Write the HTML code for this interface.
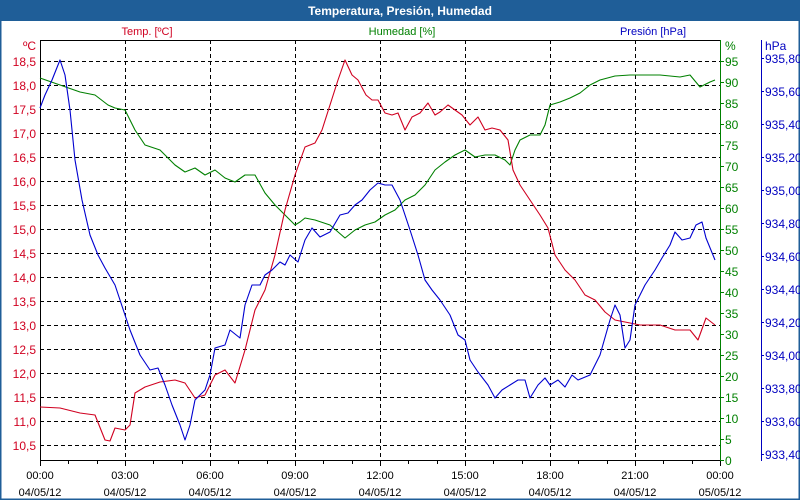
<!DOCTYPE html>
<html><head><meta charset="utf-8"><style>
body{margin:0;width:800px;height:500px;overflow:hidden;background:#fff}
svg{display:block;font-family:"Liberation Sans",sans-serif;font-size:11px}
</style></head><body>
<svg width="800" height="500" xmlns="http://www.w3.org/2000/svg">
<rect x="0" y="0" width="800" height="500" fill="#fff"/>
<rect x="0" y="0" width="800" height="21" fill="#1f5e98"/>
<rect x="0.5" y="0.5" width="799" height="499" fill="none" stroke="#1f5e98" stroke-width="2"/>
<text x="400" y="15" fill="#fff" font-weight="bold" font-size="12" text-anchor="middle">Temperatura, Presión, Humedad</text>
<text x="147" y="35" fill="#d00020" text-anchor="middle">Temp. [ºC]</text>
<text x="402" y="35" fill="#008000" text-anchor="middle">Humedad [%]</text>
<text x="653" y="35" fill="#0000c0" text-anchor="middle">Presión [hPa]</text>
<g stroke="#000" stroke-dasharray="4,3" stroke-width="1">
<path d="M40 61.5H720M40 85.5H720M40 109.5H720M40 133.5H720M40 157.5H720M40 181.5H720M40 205.5H720M40 229.5H720M40 253.5H720M40 277.5H720M40 301.5H720M40 325.5H720M40 349.5H720M40 373.5H720M40 397.5H720M40 421.5H720M40 445.5H720"/>
<path d="M125.5 40V460M210.5 40V460M295.5 40V460M380.5 40V460M465.5 40V460M550.5 40V460M635.5 40V460"/>
</g>
<path d="M40 40.5H720M40.5 40V461M40 460.5H720" stroke="#000" fill="none"/>
<path d="M720.5 40V461" stroke="#008000"/>
<path d="M761.5 40V461" stroke="#0000c0"/>
<g stroke="#000">
<path d="M40.5 461v5M68.5 461v3M97.5 461v3M125.5 461v5M153.5 461v3M182.5 461v3M210.5 461v5M238.5 461v3M267.5 461v3M295.5 461v5M323.5 461v3M352.5 461v3M380.5 461v5M408.5 461v3M437.5 461v3M465.5 461v5M493.5 461v3M522.5 461v3M550.5 461v5M578.5 461v3M607.5 461v3M635.5 461v5M663.5 461v3M692.5 461v3M720.5 461v5"/>
</g>
<g fill="#000" text-anchor="middle" font-size="11">
<text x="40" y="479">00:00</text><text x="40" y="496">04/05/12</text>
<text x="125" y="479">03:00</text><text x="125" y="496">04/05/12</text>
<text x="210" y="479">06:00</text><text x="210" y="496">04/05/12</text>
<text x="295" y="479">09:00</text><text x="295" y="496">04/05/12</text>
<text x="380" y="479">12:00</text><text x="380" y="496">04/05/12</text>
<text x="465" y="479">15:00</text><text x="465" y="496">04/05/12</text>
<text x="550" y="479">18:00</text><text x="550" y="496">04/05/12</text>
<text x="635" y="479">21:00</text><text x="635" y="496">04/05/12</text>
<text x="720" y="479">00:00</text><text x="720" y="496">05/05/12</text>
</g>
<g fill="#d00020" text-anchor="end" font-size="12">
<text x="36" y="50">ºC</text>
<text x="36" y="66">18,5</text><text x="36" y="90">18,0</text><text x="36" y="114">17,5</text><text x="36" y="138">17,0</text><text x="36" y="162">16,5</text><text x="36" y="186">16,0</text><text x="36" y="210">15,5</text><text x="36" y="234">15,0</text><text x="36" y="258">14,5</text><text x="36" y="282">14,0</text><text x="36" y="306">13,5</text><text x="36" y="330">13,0</text><text x="36" y="354">12,5</text><text x="36" y="378">12,0</text><text x="36" y="402">11,5</text><text x="36" y="426">11,0</text><text x="36" y="450">10,5</text>
</g>
<g fill="#008000" font-size="12">
<text x="725" y="50">%</text>
<g id="hum"></g>
<text x="725" y="465">0</text><text x="725" y="444">5</text><text x="725" y="423">10</text><text x="725" y="402">15</text><text x="725" y="381">20</text><text x="725" y="360">25</text><text x="725" y="339">30</text><text x="725" y="318">35</text><text x="725" y="297">40</text><text x="725" y="276">45</text><text x="725" y="255">50</text><text x="725" y="234">55</text><text x="725" y="213">60</text><text x="725" y="192">65</text><text x="725" y="171">70</text><text x="725" y="150">75</text><text x="725" y="129">80</text><text x="725" y="108">85</text><text x="725" y="87">90</text><text x="725" y="66">95</text>
</g>
<g stroke="#008000"><path d="M720 460.5h4M720 439.5h4M720 418.5h4M720 397.5h4M720 376.5h4M720 355.5h4M720 334.5h4M720 313.5h4M720 292.5h4M720 271.5h4M720 250.5h4M720 229.5h4M720 208.5h4M720 187.5h4M720 166.5h4M720 145.5h4M720 124.5h4M720 103.5h4M720 82.5h4M720 61.5h4"/></g>
<g fill="#0000c0" font-size="12">
<text x="765" y="50">hPa</text>
<text x="765" y="63">935,80</text><text x="765" y="96">935,60</text><text x="765" y="129">935,40</text><text x="765" y="162">935,20</text><text x="765" y="195">935,00</text><text x="765" y="228">934,80</text><text x="765" y="261">934,60</text><text x="765" y="294">934,40</text><text x="765" y="327">934,20</text><text x="765" y="360">934,00</text><text x="765" y="393">933,80</text><text x="765" y="426">933,60</text><text x="765" y="459">933,40</text>
</g>
<g stroke="#0000c0"><path d="M761 58.5h3M761 91.5h3M761 124.5h3M761 157.5h3M761 190.5h3M761 223.5h3M761 256.5h3M761 289.5h3M761 322.5h3M761 355.5h3M761 388.5h3M761 421.5h3M761 454.5h3"/></g>
<g fill="none" stroke-width="1.1" stroke-linejoin="round">
<polyline stroke="#008000" points="40,78 60,85 80,92 95,95 108,105 115,108 125,110 135,130 145,145 160,150 175,165 185,172 195,168 205,175 215,170 225,178 235,182 245,175 255,175 265,193 275,205 285,215 295,225 300,222 305,218 315,220 330,225 345,238 355,230 365,225 375,222 385,215 395,210 405,200 415,195 425,185 435,170 445,162 455,155 465,150 475,157 485,155 495,155 505,160 510,165 515,150 520,140 530,135 540,135 545,125 550,105 560,102 570,98 580,93 590,85 600,80 615,76 630,75 660,75 680,77 690,75 700,87 710,82 715,80"/>
<polyline stroke="#d00020" points="40,407 60,408 80,413 95,415 105,440 110,441 115,428 125,430 130,425 135,393 145,387 160,382 175,380 185,383 195,398 205,395 215,375 225,370 235,383 245,350 255,310 265,290 275,255 285,210 295,175 305,147 315,143 322,130 330,105 338,80 345,60 352,75 358,80 366,95 372,100 378,100 385,113 392,115 398,113 405,130 412,117 420,113 428,103 435,115 440,112 448,105 455,110 462,115 470,125 478,117 485,130 492,128 500,130 508,140 513,170 520,185 530,200 540,215 548,228 555,255 565,270 575,280 585,295 595,300 605,312 615,320 625,322 640,325 660,325 675,330 690,330 698,340 706,318 715,325"/>
<polyline stroke="#0000d0" points="40,108 45,95 52,80 60,60 65,75 70,110 75,160 82,200 90,235 98,255 105,268 115,285 120,300 130,330 140,355 150,370 158,368 165,385 172,405 180,425 185,440 190,425 195,400 200,395 205,390 210,375 215,348 225,345 230,330 240,338 245,305 252,285 260,285 265,275 272,270 280,262 285,265 290,255 298,262 305,240 312,228 320,237 330,232 340,215 348,213 355,205 362,200 370,190 378,183 385,185 392,185 400,200 410,230 418,255 425,280 432,290 440,300 450,315 458,335 465,340 470,360 478,372 488,385 495,398 502,390 510,385 518,380 525,380 530,398 538,385 545,378 550,385 558,380 565,387 572,375 578,380 590,375 600,355 610,320 615,305 620,315 625,348 630,340 635,305 645,285 655,270 662,258 670,245 675,232 682,240 690,238 696,225 702,222 706,238 715,260"/>
</g>
</svg>
</body></html>
